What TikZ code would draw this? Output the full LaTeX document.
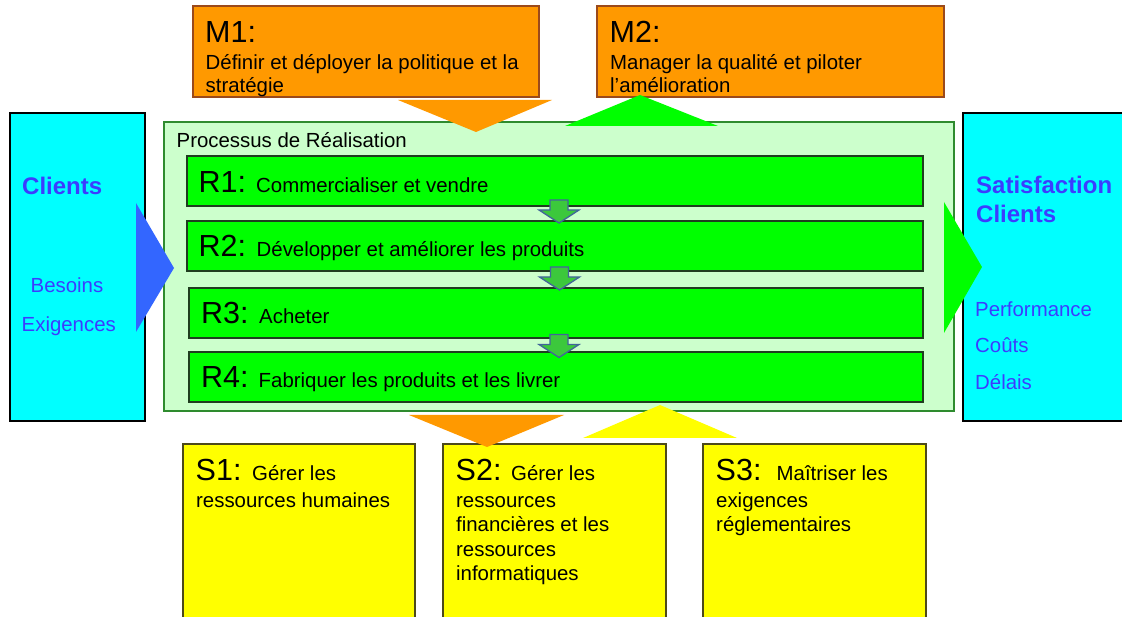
\documentclass[tikz,border=0pt]{standalone}
\usepackage{fontspec}
\setmainfont{Liberation Sans}
\usetikzlibrary{calc}
\definecolor{orangeM}{HTML}{FF9900}
\definecolor{orangeB}{HTML}{9B4A1B}
\definecolor{procfill}{HTML}{CCFFCC}
\definecolor{procdraw}{HTML}{2E8B2E}
\definecolor{rgreen}{HTML}{00FF00}
\definecolor{rdraw}{HTML}{1F3D1F}
\definecolor{arrfill}{HTML}{3CC83C}
\definecolor{arrdraw}{HTML}{41659A}
\definecolor{cyanbox}{HTML}{00FFFF}
\definecolor{bluetxt}{HTML}{3C3CFF}
\definecolor{bluetri}{HTML}{3366FF}
\definecolor{yel}{HTML}{FFFF00}
\definecolor{yeldraw}{HTML}{4D4A1A}
\tikzset{
  boxbase/.style={rectangle, inner sep=0pt, outer sep=0pt, line width=1.6pt},
  mbox/.style={boxbase, fill=orangeM, draw=orangeB},
  procbox/.style={boxbase, fill=procfill, draw=procdraw},
  rbox/.style={boxbase, fill=rgreen, draw=rdraw},
  cbox/.style={boxbase, fill=cyanbox, draw=black},
  sbox/.style={boxbase, fill=yel, draw=yeldraw},
  txt/.style={anchor=base west, inner sep=0pt, font=\fontsize{20.4}{24}\selectfont},
  bigtxt/.style={anchor=base west, inner sep=0pt, font=\fontsize{30.5}{34}\selectfont},
  bluetext/.style={txt, text=bluetxt},
  boldblue/.style={anchor=base west, inner sep=0pt, text=bluetxt, font=\fontsize{24}{28}\selectfont\bfseries},
  flowarrow/.style={fill=arrfill, draw=arrdraw, line width=1.3pt, line join=miter}
}
\newcommand{\flowarrowat}[1]{%
  \draw[flowarrow] ($#1+(-9,-11.5)$) -- ($#1+(9,-11.5)$) -- ($#1+(9,-1.5)$) -- ($#1+(20,-1.5)$)
    -- ($#1+(0,11.5)$) -- ($#1+(-20,-1.5)$) -- ($#1+(-9,-1.5)$) -- cycle;}
\begin{document}
\begin{tikzpicture}[x=1pt, y=-1pt]
\useasboundingbox (0,0) rectangle (1122,617);
\clip (0,0) rectangle (1122,617);
\fill[white] (0,0) rectangle (1122,617);

% boxes
\node[mbox, minimum width=346pt, minimum height=91pt] (m1) at (366,51.5) {};
\node[mbox, minimum width=347pt, minimum height=91pt] (m2) at (770.5,51.5) {};
\node[procbox, minimum width=790pt, minimum height=289pt] (proc) at (559,266.5) {};
\node[rbox, minimum width=736pt, minimum height=50pt] (r1) at (555,181) {};
\node[rbox, minimum width=736pt, minimum height=50pt] (r2) at (555,246) {};
\node[rbox, minimum width=734pt, minimum height=50pt] (r3) at (556,313) {};
\node[rbox, minimum width=734pt, minimum height=50pt] (r4) at (556,377) {};
\node[cbox, minimum width=135pt, minimum height=308pt] (cl) at (77.5,267) {};
\node[cbox, minimum width=167pt, minimum height=308pt] (sat) at (1046.5,267) {};
\node[sbox, minimum width=232pt, minimum height=186pt] (s1) at (299,537) {};
\node[sbox, minimum width=223pt, minimum height=186pt] (s2) at (554.5,537) {};
\node[sbox, minimum width=223pt, minimum height=186pt] (s3) at (814.5,537) {};

% small flow arrows between R boxes
\coordinate (a12) at ($($(r1.south)!0.5!(r2.north)$)+(4,-2)$);
\coordinate (a23) at ($($(r2.south)!0.5!(r3.north)$)+(4,-1)$);
\coordinate (a34) at ($($(r3.south)!0.5!(r4.north)$)+(3,1)$);
\flowarrowat{(a12)}
\flowarrowat{(a23)}
\flowarrowat{(a34)}

% big triangles
\fill[orangeM] (398,100) -- (552,100) -- (476,132) -- cycle;
\fill[rgreen] (565,126) -- (718,126) -- (640,95) -- cycle;
\fill[orangeM] (409,415) -- (564,415) -- (487,447) -- cycle;
\fill[yel] (583,438) -- (737,438) -- (660,405) -- cycle;
\fill[bluetri] (136,203) -- (136,332) -- (174,268) -- cycle;
\fill[rgreen] (944,202) -- (944,333) -- (982,267) -- cycle;

% texts M
\node[bigtxt] (m1a) at (205,43) {M1:};
\node[txt] (m1b) at (205.5,70) {Définir et déployer la politique et la};
\node[txt] (m1c) at (205.5,92.5) {stratégie};
\node[bigtxt] (m2a) at (609.5,43) {M2:};
\node[txt] (m2b) at (610,70) {Manager la qualité et piloter};
\node[txt] (m2c) at (610,92.5) {l’amélioration};

% process
\node[txt] (proct) at (176.5,148) {Processus de Réalisation};
\node[bigtxt] (r1a) at (198.5,193) {R1:};
\node[txt] (r1b) at (256,193) {Commercialiser et vendre};
\node[bigtxt] (r2a) at (198.5,257) {R2:};
\node[txt] (r2b) at (256.5,257) {Développer et améliorer les produits};
\node[bigtxt] (r3a) at (201,324) {R3:};
\node[txt] (r3b) at (259,324) {Acheter};
\node[bigtxt] (r4a) at (201,388) {R4:};
\node[txt] (r4b) at (258.5,388) {Fabriquer les produits et les livrer};

% clients
\node[boldblue] (clt) at (22,195) {Clients};
\node[bluetext] (clb) at (30.5,293) {Besoins};
\node[bluetext] (cle) at (21.5,332) {Exigences};

% satisfaction
\node[boldblue] (sat1) at (976,194) {Satisfaction};
\node[boldblue] (sat2) at (976,223) {Clients};
\node[bluetext] (satp) at (975,317) {Performance};
\node[bluetext] (satc) at (975,353) {Coûts};
\node[bluetext] (satd) at (975,390) {Délais};

% S boxes
\node[bigtxt] (s1a) at (195.5,480) {S1:};
\node[txt] (s1b) at (252,480) {Gérer les};
\node[txt] (s1c) at (196,507) {ressources humaines};
\node[bigtxt] (s2a) at (455.5,480) {S2:};
\node[txt] (s2b) at (511,480) {Gérer les};
\node[txt] (s2c) at (456,507) {ressources};
\node[txt] (s2d) at (456,531) {financières et les};
\node[txt] (s2e) at (456,556) {ressources};
\node[txt] (s2f) at (456,580) {informatiques};
\node[bigtxt] (s3a) at (715.5,480) {S3:};
\node[txt] (s3b) at (776.5,480) {Maîtriser les};
\node[txt] (s3c) at (716,507) {exigences};
\node[txt] (s3d) at (716,531) {réglementaires};
\end{tikzpicture}
\end{document}
